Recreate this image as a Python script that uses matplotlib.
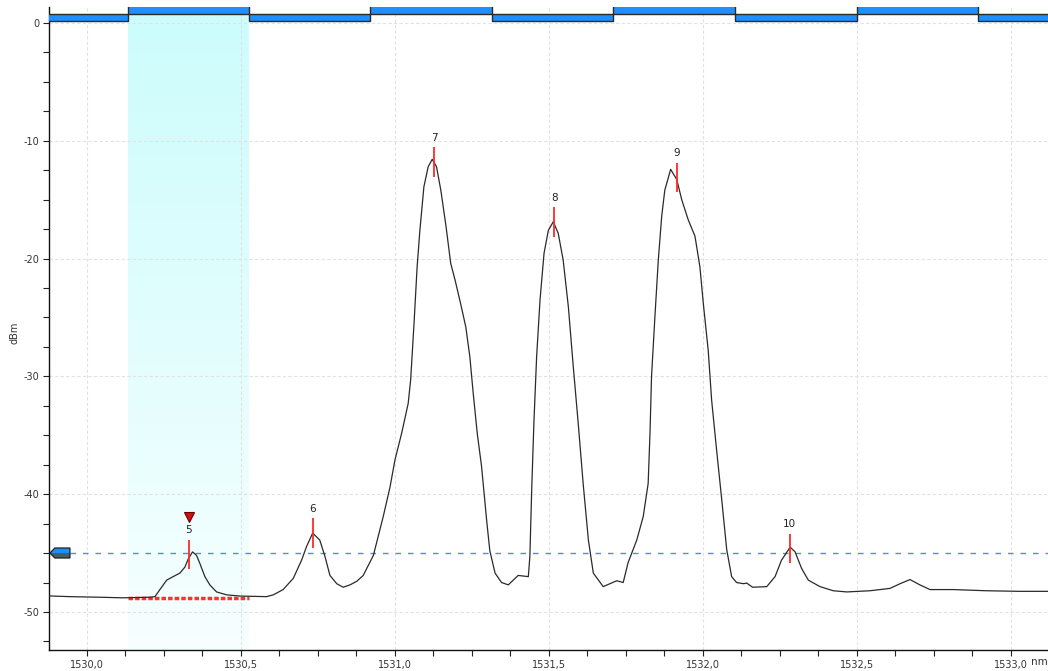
import numpy as np
import matplotlib
matplotlib.use("Agg")
import matplotlib.pyplot as plt
from matplotlib.colors import LinearSegmentedColormap
from matplotlib.patches import Polygon
from matplotlib.ticker import MultipleLocator, FuncFormatter

# Measured spectrum (wavelength in nm, power in dBm)
wavelength = [
    1529.878, 1529.946, 1530.043, 1530.118, 1530.206, 1530.222, 1530.238, 1530.260,
    1530.281, 1530.303, 1530.319, 1530.330, 1530.344, 1530.357, 1530.368, 1530.384,
    1530.400, 1530.422, 1530.455, 1530.498, 1530.584, 1530.606, 1530.638, 1530.671,
    1530.698, 1530.714, 1530.734, 1530.757, 1530.774, 1530.790, 1530.812, 1530.833,
    1530.855, 1530.877, 1530.898, 1530.931, 1530.963, 1530.985, 1531.001, 1531.023,
    1531.044, 1531.052, 1531.063, 1531.073, 1531.082, 1531.095, 1531.109, 1531.122,
    1531.136, 1531.150, 1531.167, 1531.182, 1531.196, 1531.214, 1531.231, 1531.244,
    1531.255, 1531.268, 1531.282, 1531.299, 1531.309, 1531.326, 1531.347, 1531.369,
    1531.385, 1531.401, 1531.434, 1531.439, 1531.445, 1531.452, 1531.461, 1531.472,
    1531.485, 1531.499, 1531.515, 1531.531, 1531.547, 1531.564, 1531.580, 1531.596,
    1531.612, 1531.629, 1531.645, 1531.677, 1531.699, 1531.721, 1531.742, 1531.758,
    1531.786, 1531.807, 1531.823, 1531.829, 1531.834, 1531.845, 1531.856, 1531.867,
    1531.877, 1531.896, 1531.916, 1531.932, 1531.953, 1531.975, 1531.991, 1532.002,
    1532.018, 1532.029, 1532.045, 1532.062, 1532.078, 1532.094, 1532.110, 1532.132,
    1532.143, 1532.162, 1532.208, 1532.235, 1532.256, 1532.284, 1532.300, 1532.321,
    1532.343, 1532.381, 1532.424, 1532.468, 1532.543, 1532.608, 1532.641, 1532.673,
    1532.705, 1532.738, 1532.814, 1532.922, 1533.030, 1533.121,
]
power = [
    -48.64, -48.70, -48.75, -48.80, -48.75, -48.70, -48.10, -47.30,
    -47.00, -46.70, -46.20, -45.50, -44.90, -45.20, -45.90, -47.00,
    -47.70, -48.30, -48.55, -48.65, -48.70, -48.55, -48.10, -47.15,
    -45.60, -44.45, -43.30, -43.90, -45.30, -46.90, -47.60, -47.90,
    -47.70, -47.40, -46.90, -45.20, -41.90, -39.40, -37.10, -34.80,
    -32.30, -30.30, -25.50, -20.70, -17.60, -13.90, -12.20, -11.57,
    -12.20, -14.20, -17.30, -20.40, -21.80, -23.80, -25.80, -28.30,
    -31.40, -34.80, -37.60, -42.30, -44.80, -46.70, -47.50, -47.70,
    -47.30, -46.90, -47.00, -45.30, -39.60, -34.00, -28.30, -23.50,
    -19.55, -17.60, -16.87, -17.85, -20.10, -24.10, -29.20, -34.00,
    -39.10, -43.90, -46.70, -47.85, -47.60, -47.35, -47.50, -45.80,
    -43.90, -41.90, -39.10, -34.80, -30.00, -24.90, -20.10, -16.40,
    -14.20, -12.42, -13.30, -15.00, -16.70, -18.10, -20.70, -23.80,
    -27.80, -32.00, -36.20, -40.50, -44.70, -47.00, -47.50, -47.60,
    -47.55, -47.90, -47.85, -47.00, -45.60, -44.50, -44.90, -46.30,
    -47.30, -47.85, -48.20, -48.30, -48.20, -48.00, -47.60, -47.25,
    -47.70, -48.10, -48.10, -48.20, -48.25, -48.25,
]

# Detected peaks
peak_ids = [5, 6, 7, 8, 9, 10]
peak_wl = [1530.332, 1530.734, 1531.128, 1531.518, 1531.916, 1532.283]
peak_pw = [-45.1, -43.3, -11.8, -16.9, -13.1, -44.6]

# Channel grid (50 GHz windows) shown along the top
channel_edges = [1529.740, 1530.135, 1530.527, 1530.920, 1531.315, 1531.710,
                 1532.105, 1532.500, 1532.895, 1533.290]
channel_raised = [False, True, False, True, False, True, False, True, False]

# Selected channel window and its noise level
sel_lo, sel_hi = 1530.135, 1530.527
noise_level = -48.85
threshold = -45.0
marker_wl, marker_pw = 1530.332, -41.9

x_ticks = [1530.0, 1530.5, 1531.0, 1531.5, 1532.0, 1532.5, 1533.0]
y_ticks = [0, -10, -20, -30, -40, -50]

plt.rcParams["axes.unicode_minus"] = False
plt.rcParams["font.family"] = ["DejaVu Sans"]

fig = plt.figure(figsize=(10.48, 6.71), dpi=100)
ax = fig.add_axes([49 / 1048, 21 / 671, 999 / 1048, 643 / 671])

xmin, xmax = 1529.878, 1533.121
ymin, ymax = -53.23, 1.36

# Highlighted channel band with vertical fade
cmap = LinearSegmentedColormap.from_list("band", ["#f7ffff", "#ccfcfc"])
grad = np.linspace(0, 1, 256).reshape(-1, 1)
ax.imshow(grad, extent=[sel_lo, sel_hi, ymin, ymax], origin="lower",
          aspect="auto", cmap=cmap, zorder=0, interpolation="bilinear")

# Channel bars
for i, raised in enumerate(channel_raised):
    lo, hi = channel_edges[i], channel_edges[i + 1]
    if raised:
        b, h = 0.74, 1.0
    else:
        b, h = 0.17, 0.59
    ax.bar((lo + hi) / 2, h, width=hi - lo, bottom=b, color="#1e8fff",
           edgecolor="#2b2b2b", linewidth=1.0, zorder=4)

# Threshold line
ax.hlines(threshold, 1529.946, xmax, colors="#5b8bc9", linewidth=1.0,
          linestyles=[(0, (4, 5))], zorder=3)

# Threshold handle on the left
hx0, hx1, hx2 = 1529.881, 1529.897, 1529.946
hy_top, hy_mid, hy_bot = -44.57, -45.0, -45.42
ax.add_patch(Polygon([(hx0, hy_mid), (hx1, hy_top), (hx2, hy_top), (hx2, hy_mid)],
                     closed=True, facecolor="#1e8fff", edgecolor="none", zorder=6, clip_on=False))
ax.add_patch(Polygon([(hx0, hy_mid), (hx2, hy_mid), (hx2, hy_bot), (hx1, hy_bot)],
                     closed=True, facecolor="#41606e", edgecolor="none", zorder=6, clip_on=False))
ax.add_patch(Polygon([(hx0, hy_mid), (hx1, hy_top), (hx2, hy_top), (hx2, hy_bot), (hx1, hy_bot)],
                     closed=True, facecolor="none", edgecolor="#1f1f1f", linewidth=0.9,
                     zorder=7, clip_on=False))

# Noise floor within the selected channel
ax.hlines(noise_level, sel_lo, sel_hi, colors="#ff3030", linewidth=2.5,
          linestyles=[(0, (1.3, 0.6))], zorder=3)

# Spectrum trace
ax.plot(wavelength, power, color="#2a2a2a", linewidth=0.9, zorder=5,
        solid_joinstyle="round")

# Peak markers and labels
for pid, wl, pw in zip(peak_ids, peak_wl, peak_pw):
    ax.vlines(wl, pw - 1.25, pw + 1.25, colors="#ff2a2a", linewidth=1.3, zorder=6)
    ax.annotate(str(pid), (wl, pw), xytext=(0, 17.5), textcoords="offset points",
                ha="center", va="center", fontsize=7.5, color="#222222", zorder=7)

ax.plot([marker_wl], [marker_pw], marker="v", markersize=6.5, color="#d01010",
        markeredgecolor="#6a0000", markeredgewidth=0.8, linestyle="none", zorder=7)

ax.set_xlim(xmin, xmax)
ax.set_ylim(ymin, ymax)

ax.set_xticks(x_ticks)
ax.xaxis.set_minor_locator(MultipleLocator(0.125))
ax.xaxis.set_major_formatter(FuncFormatter(lambda v, p: f"{v:.1f}".replace(".", ",")))
ax.set_yticks(y_ticks)
ax.yaxis.set_minor_locator(MultipleLocator(2.5))
ax.yaxis.set_major_formatter(FuncFormatter(lambda v, p: f"{v:.0f}"))

ax.tick_params(which="both", direction="out", length=4, width=0.8, color="#222222",
               labelsize=7, labelcolor="#333333", pad=3)

ax.grid(True, which="major", color="#e2e2e2", linestyle=(0, (3, 2)), linewidth=0.8)
ax.set_axisbelow(True)

for side in ("top", "right"):
    ax.spines[side].set_visible(False)
for side in ("left", "bottom"):
    ax.spines[side].set_color("#111111")
    ax.spines[side].set_linewidth(1.0)

fig.text(14 / 1048, 1 - 333 / 671, "dBm", rotation=90, ha="center", va="center",
         fontsize=7, color="#333333")
fig.text(1031 / 1048, 1 - 662 / 671, "nm", ha="left", va="center",
         fontsize=7.5, color="#333333")

fig.savefig("out.png", dpi=100, facecolor="white")
